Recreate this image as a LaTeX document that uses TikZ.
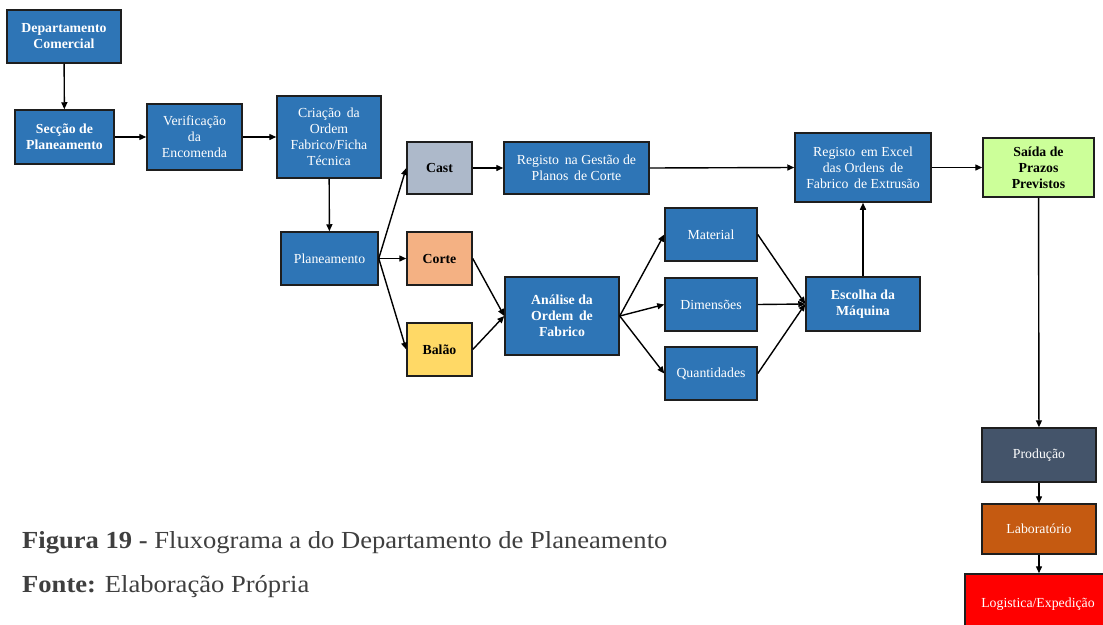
\documentclass[tikz,border=0pt]{standalone}
\usepackage{fontspec}
\setmainfont{Liberation Serif}
\usetikzlibrary{arrows.meta}
\definecolor{boxblue}{HTML}{2E75B6}
\definecolor{castgray}{HTML}{ADB9CA}
\definecolor{corteorange}{HTML}{F4B183}
\definecolor{balaoyellow}{HTML}{FFD966}
\definecolor{saidagreen}{HTML}{CCFF99}
\definecolor{prodslate}{HTML}{44546A}
\definecolor{labrust}{HTML}{C55A11}
\definecolor{logred}{HTML}{FF0000}
\definecolor{edgedark}{HTML}{1E1E1E}
\definecolor{captiongray}{HTML}{3F3F3F}
\tikzset{
  flowbox/.style={draw=edgedark, line width=1.5pt, fill=boxblue, text=white,
    align=center, inner sep=2pt,
    font=\fontsize{13.8}{16}\selectfont},
  darktext/.style={text=black},
  boldtext/.style={font=\fontsize{13.8}{16}\selectfont\bfseries},
  arr/.style={line width=1.4pt, draw=black,
    -{Triangle[length=7pt,width=6pt]}},
  sz/.style 2 args={minimum width=#1pt, minimum height=#2pt},
  caption/.style={anchor=base west, inner sep=0pt, text=captiongray,
    font=\fontsize{24.5}{28}\selectfont},
}
\begin{document}
\begin{tikzpicture}[x=1pt,y=-1pt]
\useasboundingbox (0,0) rectangle (1103,624);
\clip (0,0) rectangle (1103,624);

% ---- left column ----
\node[flowbox, boldtext, sz={114}{53}] (dc) at (64,36.5) {Departamento\\Comercial};
\node[flowbox, boldtext, sz={99}{54}] (sp) at (64.5,137) {Secção de\\Planeamento};
\node[flowbox, sz={95}{66}] (ve) at (194.5,137) {Verificação\\da\\Encomenda};
\node[flowbox, sz={104}{82}] (cr) at (329,137) {Criação\, da\\Ordem\\Fabrico/Ficha\\Técnica};
\node[flowbox, sz={97}{53}] (pl) at (329.5,258.5) {Planeamento};

% ---- process types ----
\node[flowbox, boldtext, darktext, fill=castgray, sz={65}{52}] (cast) at (439.5,168) {Cast};
\node[flowbox, boldtext, darktext, fill=corteorange, sz={65}{53}] (corte) at (439.5,258.5) {Corte};
\node[flowbox, boldtext, darktext, fill=balaoyellow, sz={65}{53}] (balao) at (439.5,349.5) {Balão};

% ---- planning and analysis ----
\node[flowbox, sz={145}{52}] (rg) at (576.5,168) {Registo\, na Gestão de\\Planos\, de Corte};
\node[flowbox, boldtext, sz={114}{78}] (an) at (562,316) {Análise da\\Ordem\, de\\Fabrico};
\node[flowbox, sz={92}{53}] (mat) at (711,234.5) {Material};
\node[flowbox, sz={92}{53}] (dim) at (711,304.5) {Dimensões};
\node[flowbox, sz={92}{53}] (qt) at (711,373.5) {Quantidades};
\node[flowbox, boldtext, sz={114}{54}] (es) at (863,304) {Escolha da\\Máquina};
\node[flowbox, sz={136}{69}] (ex) at (863,167.5) {Registo\, em Excel\\das Ordens\, de\\Fabrico\, de Extrusão};

% ---- right column ----
\node[flowbox, boldtext, darktext, fill=saidagreen, sz={111}{59}] (sa) at (1038.5,167.5) {Saída de\\Prazos\\Previstos};
\node[flowbox, fill=prodslate, sz={114}{54}] (pr) at (1039,455) {Produção};
\node[flowbox, fill=labrust, sz={114}{50}] (lab) at (1039,529) {Laboratório};
\node[flowbox, fill=logred, sz={146}{60}] (lg) at (1038,604) {Logistica/Expedição};

% ---- connectors ----
\draw[arr] (dc) -- (sp);
\draw[arr] (sp) -- (ve);
\draw[arr] (ve) -- (cr);
\draw[arr] (cr) -- (pl);
\draw[arr] (pl.east) -- (cast.west);
\draw[arr] (pl.east) -- (corte.west);
\draw[arr] (pl.east) -- (balao.west);
\draw[arr] (cast) -- (rg);
\draw[arr] (rg.east) -- (ex.west);
\draw[arr] (corte.east) -- (an.west);
\draw[arr] (balao.east) -- (an.west);
\draw[arr] (an.east) -- (mat.west);
\draw[arr] (an.east) -- (dim.west);
\draw[arr] (an.east) -- (qt.west);
\draw[arr] (mat.east) -- (es.west);
\draw[arr] (dim.east) -- (es.west);
\draw[arr] (qt.east) -- (es.west);
\draw[arr] (es) -- (ex);
\draw[arr] (ex) -- (sa);
\draw[arr] (sa) -- (pr);
\draw[arr] (pr) -- (lab);
\draw[arr] (lab.south) -- (lab.south |- lg.north);

% ---- caption ----
\node[caption] (cap) at (22,548)
  {\scalebox{1.085}[1]{\textbf{Figura 19 -} Fluxograma a do Departamento de Planeamento}};
\node[caption] (src) at (22,592)
  {\scalebox{1.085}[1]{\textbf{Fonte:} Elaboração Própria}};
\end{tikzpicture}
\end{document}
